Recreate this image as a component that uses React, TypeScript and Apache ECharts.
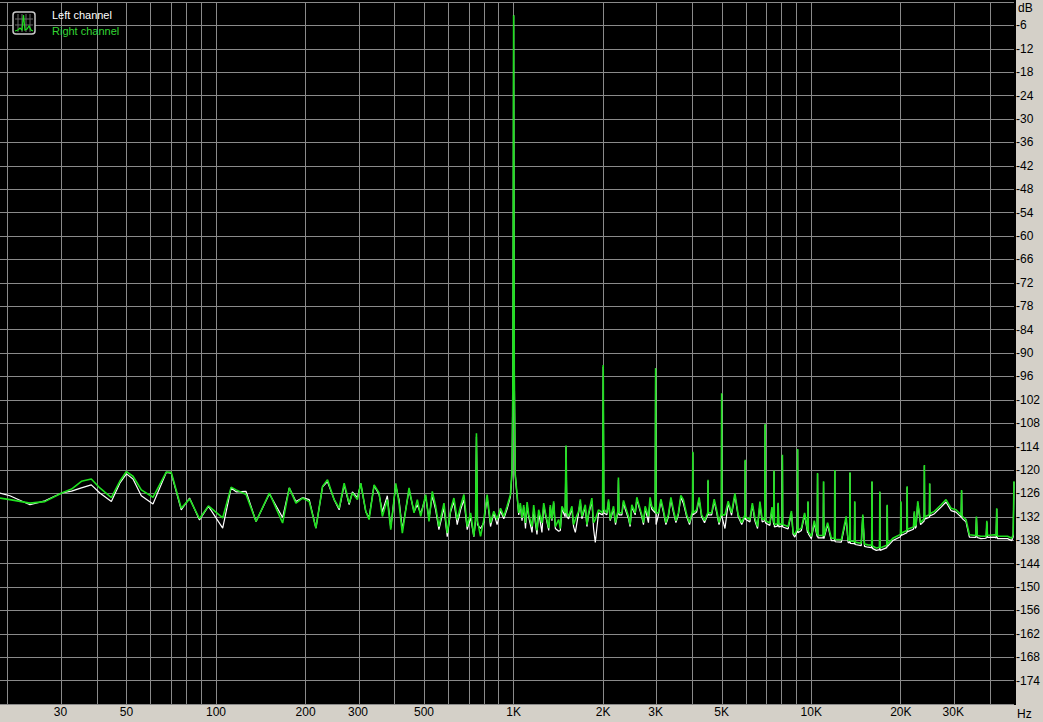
import React, { useEffect, useRef } from 'react';
import * as echarts from 'echarts';

// Frequencies (Hz) shared by both channels
const freqHz = [
  18.8, 20.3, 23.7, 26.6, 30.3, 32.7, 35.3, 38.1, 40.7, 44.5,
  47.5, 50.0, 52.6, 56.1, 61.4, 68.1, 70.7, 76.4, 81.5, 88.0,
  94.3, 105.3, 112.4, 116.8, 126.2, 136.3, 151.1, 167.4, 176.3, 185.6,
  195.3, 205.7, 216.6, 228.0, 236.9, 249.5, 259.3, 269.5, 280.1, 287.3,
  298.6, 306.5, 318.6, 326.8, 339.7, 353.1, 362.2, 376.4, 386.5, 401.7,
  412.1, 422.7, 445.2, 462.7, 474.7, 487.3, 506.5, 519.5, 532.9, 547.0,
  561.0, 583.3, 598.3, 614.2, 630.0, 646.3, 663.5, 680.6, 698.2, 716.8,
  735.3, 745, 750, 756, 774.2, 794.2, 814.6, 836.2, 857.9, 880.0,
  903.4, 926.7, 950.6, 975.7, 988, 995, 1000, 1005, 1012,
  1040, 1053, 1067, 1081, 1096, 1110, 1124, 1153, 1168, 1183,
  1198, 1214, 1245, 1262, 1279, 1312, 1328, 1345, 1363, 1381,
  1417, 1435, 1453, 1490, 1500, 1510, 1530, 1570, 1590, 1612,
  1653, 1675, 1696, 1741, 1763, 1786, 1832, 1856, 1881, 1929,
  1990, 2000, 2010, 2057, 2084, 2111, 2166, 2200, 2240, 2250,
  2260, 2310, 2340, 2371, 2432, 2463, 2495, 2561, 2594, 2627,
  2695, 2731, 2767, 2838, 2874, 2911, 2990, 3000, 3010, 3066,
  3126, 3186, 3248, 3311, 3376, 3442, 3510, 3577, 3646, 3718,
  3815, 3900, 3990, 4000, 4010, 4120, 4200, 4281, 4380, 4490,
  4500, 4510, 4627, 4720, 4808, 4900, 4990, 5000, 5010, 5130,
  5260, 5398, 5540, 5684, 5840, 5990, 6000, 6010, 6221, 6340,
  6466, 6600, 6722, 6842, 6980, 7000, 7020, 7260, 7380, 7480,
  7500, 7520, 7700, 7742, 7780, 7980, 8000, 8020, 8361, 8580,
  8690, 8807, 8980, 9000, 9020, 9266, 9500, 9720, 9750, 9780,
  10010, 10240, 10470, 10500, 10530, 10970, 11000, 11030, 11350, 11680,
  11970, 12000, 12030, 12620, 13100, 13300, 13470, 13500, 13530, 13970,
  14000, 14030, 14720, 14900, 15100, 15500, 15960, 16000, 16040, 16540,
  16960, 17000, 17040, 17950, 18000, 18050, 18800, 19950, 20000, 20050,
  20950, 21000, 21050, 22050, 22200, 22350, 22510, 22800, 23300, 23950,
  24000, 24050, 24950, 25000, 25050, 25940, 27310, 28370, 29490, 30640,
  31900, 32000, 32100, 33110, 33990, 35700, 35900, 36100, 37170, 38700,
  38900, 39100, 41230, 41800, 42000, 42200, 45670, 47210, 47700, 48000,
];

// Right channel (green), dB
const rightDb = [
  -127.2, -127.6, -128.5, -128.1, -125.9, -124.9, -122.9, -122.3, -124.6, -127.1,
  -122.9, -120.4, -121.6, -125.1, -127.0, -120.5, -120.6, -129.8, -127.4, -132.5,
  -129.2, -132.3, -124.4, -125.1, -126.3, -133.2, -125.9, -133.6, -124.6, -128.5,
  -127.2, -128.1, -134.9, -124.2, -122.5, -127.6, -129.8, -123.4, -128.5, -125.9,
  -127.6, -123.4, -130.6, -132.7, -123.8, -125.9, -131.9, -127.6, -135.3, -123.4,
  -128.5, -136.2, -124.6, -131.0, -127.6, -131.9, -126.3, -133.2, -125.5, -129.3,
  -134.5, -128.5, -136.2, -130.2, -127.2, -132.7, -129.3, -126.3, -134.5, -131.0,
  -137.0, -132.0, -110.6, -133.0, -137.0, -132.7, -126.3, -133.6, -130.6, -132.7,
  -129.8, -131.9, -129.3, -126.3, -120.0, -95.0, -3.4, -95.0, -121.0,
  -131.0, -128.5, -132.3, -129.0, -133.6, -128.2, -131.5, -134.5, -129.0, -132.7,
  -135.5, -130.2, -133.6, -128.5, -131.0, -134.9, -129.0, -132.7, -128.0, -134.5,
  -132.7, -135.0, -129.3, -131.0, -113.7, -131.0, -131.9, -129.3, -134.0, -132.7,
  -130.6, -127.5, -131.9, -128.9, -134.0, -131.0, -127.2, -133.5, -132.7, -130.2,
  -131.0, -93.1, -130.0, -131.0, -127.5, -132.7, -129.3, -133.5, -130.5, -121.9,
  -131.0, -131.0, -127.8, -129.3, -131.9, -134.0, -128.9, -131.0, -127.0, -128.5,
  -131.5, -133.5, -129.3, -131.9, -127.0, -129.3, -130.5, -93.9, -131.0, -131.0,
  -127.5, -130.2, -133.5, -131.5, -127.0, -130.2, -133.0, -131.0, -126.5, -127.6,
  -131.5, -133.5, -130.5, -115.3, -131.0, -130.2, -127.0, -131.5, -133.0, -131.0,
  -122.5, -131.0, -131.0, -127.5, -130.2, -133.5, -131.0, -100.3, -131.5, -131.5,
  -128.0, -131.0, -126.0, -131.5, -133.5, -131.5, -117.4, -132.0, -132.7, -128.5,
  -132.3, -134.5, -128.1, -132.7, -132.5, -108.2, -133.0, -133.6, -129.5, -133.5,
  -120.1, -134.0, -133.8, -128.4, -134.0, -133.8, -116.1, -134.0, -134.5, -130.5,
  -136.0, -136.6, -135.0, -114.6, -135.5, -134.9, -131.0, -135.5, -128.0, -135.8,
  -137.0, -133.0, -136.5, -120.8, -136.8, -136.8, -122.9, -137.0, -133.5, -137.5,
  -137.5, -120.0, -137.8, -137.9, -131.9, -138.0, -138.0, -120.6, -138.2, -138.3,
  -128.0, -138.5, -138.8, -131.4, -139.0, -139.2, -139.3, -122.9, -139.5, -140.0,
  -139.8, -125.5, -140.0, -139.3, -128.9, -139.0, -137.5, -136.5, -128.0, -136.2,
  -135.5, -124.2, -135.2, -134.6, -130.6, -134.4, -134.0, -128.0, -133.5, -132.5,
  -118.7, -132.0, -131.5, -123.4, -131.2, -130.6, -128.9, -127.6, -129.8, -130.2,
  -131.5, -125.1, -131.8, -132.7, -136.6, -136.8, -131.9, -136.8, -137.0, -137.0,
  -133.0, -136.8, -136.6, -136.8, -129.8, -137.0, -137.0, -137.5, -136.5, -122.9,
];

// Left channel (white), dB
const leftDb = [
  -125.9, -126.6, -128.9, -127.9, -125.9, -125.4, -124.6, -123.8, -125.9, -128.1,
  -123.4, -121.0, -122.3, -126.6, -128.7, -120.6, -120.8, -130.2, -127.2, -132.8,
  -129.3, -134.9, -124.6, -125.6, -125.5, -133.2, -126.1, -132.2, -124.6, -128.1,
  -127.1, -127.6, -134.9, -124.3, -123.0, -127.6, -130.2, -123.8, -128.9, -125.6,
  -127.1, -123.5, -130.7, -132.2, -124.0, -126.3, -130.7, -126.6, -134.8, -124.0,
  -127.6, -135.3, -125.1, -130.7, -128.9, -131.2, -126.9, -132.5, -126.6, -130.2,
  -135.3, -129.7, -137.1, -130.7, -128.1, -134.0, -130.2, -127.6, -135.3, -132.2,
  -137.1, -133.0, -111.5, -134.0, -135.0, -133.5, -127.0, -134.5, -131.0, -134.0,
  -130.5, -132.5, -130.0, -126.8, -120.5, -95.0, -3.4, -95.0, -121.0,
  -131.5, -129.0, -133.0, -129.5, -135.0, -129.0, -132.0, -136.0, -130.0, -133.5,
  -136.5, -130.8, -136.0, -129.0, -131.5, -135.5, -129.5, -133.0, -128.5, -135.0,
  -135.7, -135.5, -130.0, -132.0, -114.0, -132.0, -132.5, -130.0, -134.5, -136.0,
  -131.0, -128.0, -132.5, -129.5, -134.5, -131.5, -128.0, -135.0, -138.6, -131.0,
  -131.5, -93.5, -131.0, -131.5, -128.0, -133.0, -130.0, -134.0, -131.0, -122.5,
  -131.5, -131.5, -128.2, -130.0, -132.5, -134.5, -129.5, -131.5, -127.5, -129.0,
  -132.0, -134.0, -129.8, -133.5, -127.5, -130.0, -131.0, -94.0, -134.0, -131.5,
  -128.0, -130.8, -134.0, -132.0, -127.5, -130.8, -133.5, -131.5, -127.0, -128.5,
  -132.0, -134.0, -131.0, -115.5, -131.5, -130.8, -127.5, -132.0, -133.5, -131.5,
  -122.8, -131.5, -131.5, -128.0, -130.8, -134.0, -131.5, -100.5, -132.0, -135.0,
  -128.5, -131.6, -126.5, -132.0, -134.0, -132.0, -117.6, -132.6, -133.3, -129.0,
  -133.0, -135.0, -128.8, -133.3, -133.0, -108.4, -133.6, -134.2, -130.0, -134.0,
  -120.3, -134.6, -134.4, -128.6, -134.6, -134.4, -116.3, -134.6, -135.1, -131.0,
  -136.5, -137.2, -135.6, -114.8, -136.1, -135.5, -131.5, -136.1, -128.3, -136.4,
  -137.6, -133.6, -137.1, -121.0, -137.4, -137.4, -123.1, -137.6, -134.0, -138.1,
  -138.1, -120.2, -138.4, -138.5, -132.5, -138.6, -138.6, -120.8, -138.8, -138.9,
  -128.3, -139.1, -139.4, -131.8, -139.6, -139.8, -139.9, -123.1, -140.1, -140.6,
  -140.4, -125.7, -140.6, -139.9, -129.1, -139.6, -138.1, -137.1, -128.3, -136.8,
  -136.1, -124.4, -135.8, -135.2, -131.0, -135.0, -134.6, -128.4, -134.0, -133.1,
  -118.9, -132.6, -132.1, -123.6, -131.8, -131.2, -129.5, -128.2, -130.4, -130.8,
  -132.1, -125.3, -132.4, -133.3, -137.2, -137.3, -132.2, -137.3, -137.6, -137.5,
  -133.4, -137.3, -137.2, -137.4, -130.0, -137.6, -137.6, -138.1, -137.1, -123.1,
];

const gridFreqs = [
  20, 30, 40, 50, 60, 70, 80, 90,
  100, 200, 300, 400, 500, 600, 700, 800, 900,
  1000, 2000, 3000, 4000, 5000, 6000, 7000, 8000, 9000,
  10000, 20000, 30000, 40000,
];
const labelFreqs = [30, 50, 100, 200, 300, 500, 1000, 2000, 3000, 5000, 10000, 20000, 30000];

const F_MIN = 18.8;
const F_MAX = 48000;
const DB_MIN = -180;
const DB_MAX = 0;
const DB_STEP = 6;

const GRID_COLOR = '#8a8a8a';
const GREEN = '#1fe01f';
const FONT = '"Liberation Sans", Arial, sans-serif';

const fmtHz = (f: number) => (f >= 1000 ? `${f / 1000}K` : `${f}`);

export default function App() {
  const ref = useRef<HTMLDivElement>(null);

  useEffect(() => {
    document.body.style.margin = '0';
    const chart = echarts.init(ref.current!, undefined, { renderer: 'svg' });

    const left = freqHz.map((f, i) => [Math.log10(f), leftDb[i]]);
    const right = freqHz.map((f, i) => [Math.log10(f), rightDb[i]]);

    chart.setOption({
      animation: false,
      backgroundColor: '#d4d0c8',
      grid: {
        left: 0,
        right: 27,
        top: 2,
        bottom: 18,
        show: true,
        backgroundColor: '#000',
        borderWidth: 0,
      },
      xAxis: {
        type: 'value',
        min: Math.log10(F_MIN),
        max: Math.log10(F_MAX),
        axisLine: { show: false },
        axisTick: { show: false },
        splitLine: { show: false },
        axisLabel: {
          customValues: labelFreqs.map((f) => Math.log10(f)),
          formatter: (v: number) => fmtHz(Math.round(Math.pow(10, v))),
          color: '#000',
          fontSize: 12,
          fontFamily: FONT,
          margin: 2,
        },
      },
      yAxis: {
        type: 'value',
        position: 'right',
        min: DB_MIN,
        max: DB_MAX,
        interval: DB_STEP,
        axisLine: { show: false },
        axisTick: { show: false },
        splitLine: { show: true, lineStyle: { color: GRID_COLOR, width: 1 } },
        axisLabel: {
          formatter: (v: number) => (v === DB_MAX || v === DB_MIN ? '' : `${v}`),
          color: '#000',
          fontSize: 12,
          fontFamily: FONT,
          margin: 2,
        },
      },
      graphic: [
        { type: 'rect', z: -1, silent: true, shape: { x: 0, y: 0, width: 1016, height: 705 }, style: { fill: '#000' } },
        { type: 'text', z: 100, x: 1018, y: 8, style: { text: 'dB', fill: '#000', font: `12px ${FONT}`, verticalAlign: 'middle' } },
        { type: 'text', z: 100, x: 1017, y: 714, style: { text: 'Hz', fill: '#000', font: `12px ${FONT}`, verticalAlign: 'middle' } },
        {
          type: 'group',
          z: 100,
          children: [
            { type: 'rect', z: 100, shape: { x: 13, y: 12, width: 22, height: 22, r: 3 }, style: { fill: '#000', stroke: '#c8c8c8', lineWidth: 1.5 } },
            { type: 'line', z: 100, shape: { x1: 18, y1: 14, x2: 18, y2: 32 }, style: { stroke: '#6a6a6a', lineWidth: 1 } },
            { type: 'line', z: 100, shape: { x1: 22, y1: 14, x2: 22, y2: 32 }, style: { stroke: '#6a6a6a', lineWidth: 1 } },
            { type: 'line', z: 100, shape: { x1: 26, y1: 14, x2: 26, y2: 32 }, style: { stroke: '#6a6a6a', lineWidth: 1 } },
            { type: 'line', z: 100, shape: { x1: 30, y1: 14, x2: 30, y2: 32 }, style: { stroke: '#6a6a6a', lineWidth: 1 } },
            { type: 'line', z: 100, shape: { x1: 15, y1: 19, x2: 33, y2: 19 }, style: { stroke: '#6a6a6a', lineWidth: 1 } },
            { type: 'line', z: 100, shape: { x1: 15, y1: 25, x2: 33, y2: 25 }, style: { stroke: '#6a6a6a', lineWidth: 1 } },
            {
              type: 'polyline',
              z: 101,
              shape: { points: [[15, 31], [18, 30], [20, 28], [22, 30], [23.5, 15], [25, 30], [27, 29], [29, 26], [31, 30], [33, 31]] },
              style: { stroke: GREEN, lineWidth: 1.2, fill: 'none' },
            },
            { type: 'text', z: 100, x: 52, y: 15, style: { text: 'Left channel', fill: '#ffffff', font: `11px ${FONT}`, verticalAlign: 'middle' } },
            { type: 'text', z: 100, x: 52, y: 31, style: { text: 'Right channel', fill: '#33d633', font: `11px ${FONT}`, verticalAlign: 'middle' } },
          ],
        },
      ],
      series: [
        {
          name: 'grid',
          type: 'line',
          data: [],
          silent: true,
          z: 1,
          markLine: {
            z: 1,
            silent: true,
            symbol: 'none',
            animation: false,
            label: { show: false },
            lineStyle: { color: GRID_COLOR, width: 1, type: 'solid' },
            data: gridFreqs.map((f) => ({ xAxis: Math.log10(f) })),
          },
        },
        {
          name: 'Left channel',
          type: 'line',
          data: left,
          showSymbol: false,
          symbol: 'none',
          z: 2,
          lineStyle: { color: '#ffffff', width: 1.2 },
        },
        {
          name: 'Right channel',
          type: 'line',
          data: right,
          showSymbol: false,
          symbol: 'none',
          z: 3,
          lineStyle: { color: GREEN, width: 1.6 },
        },
      ],
    });

    return () => chart.dispose();
  }, []);

  return <div ref={ref} style={{ width: 1043, height: 722 }} />;
}
